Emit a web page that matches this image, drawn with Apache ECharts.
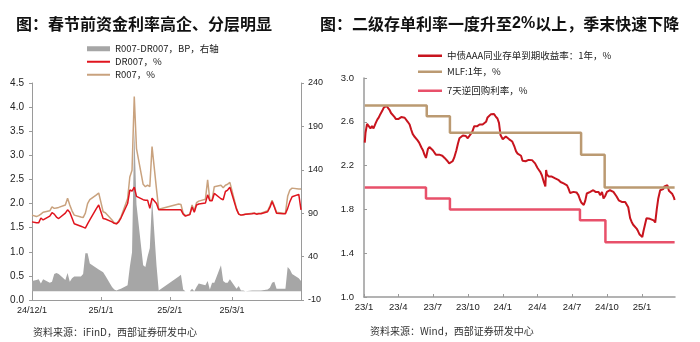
<!DOCTYPE html>
<html><head><meta charset="utf-8">
<script src="https://cdn.jsdelivr.net/npm/echarts@6/dist/echarts.min.js"></script>
<style>html,body{margin:0;padding:0;background:#fff}#c{width:700px;height:342px}</style>
</head><body><div id="c"></div>
<script>
// ---------- Left chart data ----------
const leftDates = ['2024-12-01','2024-12-03','2024-12-04','2024-12-05','2024-12-06','2024-12-09','2024-12-10','2024-12-11','2024-12-12','2024-12-13',
'2024-12-16','2024-12-17','2024-12-18','2024-12-19','2024-12-20','2024-12-23','2024-12-24','2024-12-25','2024-12-26','2024-12-27',
'2024-12-30','2024-12-31','2025-01-02','2025-01-03','2025-01-06','2025-01-07','2025-01-08','2025-01-09','2025-01-10','2025-01-13',
'2025-01-14','2025-01-15','2025-01-16','2025-01-17','2025-01-20','2025-01-21','2025-01-22','2025-01-23','2025-01-24','2025-01-26',
'2025-01-27','2025-02-05','2025-02-06','2025-02-07','2025-02-08','2025-02-10','2025-02-11','2025-02-12','2025-02-13','2025-02-14',
'2025-02-17','2025-02-18','2025-02-19','2025-02-20','2025-02-21','2025-02-24','2025-02-25','2025-02-26','2025-02-27','2025-02-28',
'2025-03-03','2025-03-04','2025-03-05','2025-03-06','2025-03-07','2025-03-10','2025-03-11','2025-03-12','2025-03-13','2025-03-14',
'2025-03-17','2025-03-18','2025-03-19','2025-03-20','2025-03-21','2025-03-24','2025-03-25','2025-03-26','2025-03-27','2025-03-28',
'2025-03-31','2025-04-01'];
const r007 = [1.76,1.73,1.75,1.78,1.82,1.85,1.93,1.90,1.91,1.92,
1.97,2.11,1.97,1.85,1.76,1.72,1.71,1.80,2.00,2.08,
2.18,2.22,1.83,1.81,1.66,1.60,1.58,1.64,1.72,2.10,
2.55,2.69,4.22,3.14,2.40,2.35,2.38,2.35,3.18,2.30,
1.88,1.99,1.98,1.80,1.75,1.78,1.97,1.85,2.02,2.05,
2.09,2.49,2.07,2.07,2.35,2.38,2.33,2.38,2.40,2.44,
1.90,1.78,1.76,1.77,1.78,1.80,1.80,1.79,1.80,1.80,
1.85,1.95,2.07,1.95,1.82,1.80,1.80,2.15,2.28,2.32,
2.30,2.30];
const dr007 = [1.62,1.60,1.60,1.70,1.66,1.74,1.81,1.78,1.72,1.69,
1.80,1.87,1.82,1.70,1.58,1.53,1.51,1.49,1.58,1.66,
1.90,1.97,1.69,1.68,1.62,1.59,1.58,1.62,1.70,2.00,
2.28,2.26,2.34,2.15,2.08,2.07,2.07,1.90,2.11,2.00,
1.87,1.87,1.87,1.78,1.74,1.77,1.93,1.82,1.97,1.99,
2.01,2.18,2.06,2.06,2.21,2.10,2.08,2.25,2.28,2.34,
1.88,1.78,1.76,1.77,1.78,1.79,1.80,1.78,1.79,1.79,
1.83,1.92,2.04,1.93,1.80,1.79,1.79,1.90,2.04,2.14,
2.19,1.87];
const spreadBP = [12,13,14,9,14,10,11,20,21,20,
13,21,11,15,17,17,20,44,44,32,
27,25,22,18,5,2,1,2,3,7,
28,45,188,100,30,28,40,50,107,30,
1,17,19,2,0,0,3,0,5,9,
7,12,2,10,10,30,12,10,10,14,
3,6,1,1,0,1,1,1,1,1,
2,4,10,11,3,3,3,28,25,20,
15,12];
const leftXTicks = ['2024-12-01','2025-01-01','2025-02-01','2025-03-01'];
const leftYTicks = [0,0.5,1,1.5,2,2.5,3,3.5,4,4.5];
const leftY2Ticks = [-10,40,90,140,190,240];

// ---------- Right chart data ----------
const cdDates = [
'2023-01-03','2023-01-05','2023-01-09','2023-01-13','2023-01-18','2023-01-22','2023-01-26',
'2023-02-01','2023-02-05','2023-02-09','2023-02-13','2023-02-18','2023-02-22','2023-02-26',
'2023-03-01','2023-03-05','2023-03-09','2023-03-13','2023-03-18','2023-03-22','2023-03-26',
'2023-04-01','2023-04-05','2023-04-09','2023-04-13','2023-04-18','2023-04-22','2023-04-26',
'2023-05-01','2023-05-05','2023-05-09','2023-05-13','2023-05-18','2023-05-22','2023-05-26',
'2023-06-01','2023-06-05','2023-06-09','2023-06-13','2023-06-18','2023-06-22','2023-06-26',
'2023-07-01','2023-07-05','2023-07-09','2023-07-13','2023-07-18','2023-07-22','2023-07-26',
'2023-08-01','2023-08-05','2023-08-09','2023-08-13','2023-08-18','2023-08-22','2023-08-26',
'2023-09-01','2023-09-05','2023-09-09','2023-09-13','2023-09-18','2023-09-22','2023-09-26',
'2023-10-01','2023-10-05','2023-10-09','2023-10-13','2023-10-18','2023-10-22','2023-10-26',
'2023-11-01','2023-11-05','2023-11-09','2023-11-13','2023-11-18','2023-11-22','2023-11-26',
'2023-12-01','2023-12-05','2023-12-09','2023-12-13','2023-12-18','2023-12-22','2023-12-26',
'2024-01-01','2024-01-05','2024-01-09','2024-01-13','2024-01-18','2024-01-22','2024-01-26',
'2024-02-01','2024-02-05','2024-02-09','2024-02-13','2024-02-18','2024-02-22','2024-02-26',
'2024-03-01','2024-03-05','2024-03-09','2024-03-13','2024-03-18','2024-03-22','2024-03-26',
'2024-04-01','2024-04-05','2024-04-09','2024-04-13','2024-04-18','2024-04-22','2024-04-24','2024-04-26',
'2024-05-01','2024-05-05','2024-05-09','2024-05-13','2024-05-18','2024-05-22','2024-05-26',
'2024-06-01','2024-06-05','2024-06-09','2024-06-13','2024-06-18','2024-06-22','2024-06-26',
'2024-07-01','2024-07-05','2024-07-09','2024-07-13','2024-07-18','2024-07-22','2024-07-26',
'2024-08-01','2024-08-05','2024-08-09','2024-08-13','2024-08-18','2024-08-22','2024-08-26',
'2024-09-01','2024-09-05','2024-09-09','2024-09-13','2024-09-18','2024-09-22','2024-09-26',
'2024-10-01','2024-10-05','2024-10-09','2024-10-13','2024-10-18','2024-10-22','2024-10-26',
'2024-11-01','2024-11-05','2024-11-09','2024-11-13','2024-11-18','2024-11-22','2024-11-26',
'2024-12-01','2024-12-05','2024-12-09','2024-12-13','2024-12-18','2024-12-22','2024-12-26',
'2025-01-02','2025-01-05','2025-01-09','2025-01-13','2025-01-18','2025-01-22','2025-01-26',
'2025-02-01','2025-02-05','2025-02-09','2025-02-13','2025-02-18','2025-02-22','2025-02-26',
'2025-03-01','2025-03-05','2025-03-09','2025-03-13','2025-03-18','2025-03-22','2025-03-26','2025-03-28'];
const cdValues = [
2.41,2.50,2.58,2.59,2.54,2.56,2.54,
2.59,2.62,2.64,2.67,2.70,2.73,2.745,
2.745,2.735,2.71,2.68,2.668,2.645,2.625,
2.625,2.637,2.643,2.637,2.637,2.625,2.60,
2.575,2.53,2.49,2.468,2.46,2.43,2.41,
2.365,2.34,2.30,2.27,2.35,2.37,2.365,
2.34,2.33,2.30,2.31,2.30,2.31,2.29,
2.27,2.26,2.24,2.22,2.22,2.24,2.27,
2.34,2.40,2.45,2.468,2.475,2.49,2.47,
2.45,2.47,2.49,2.51,2.56,2.575,2.56,
2.575,2.57,2.575,2.58,2.60,2.64,2.65,
2.67,2.674,2.672,2.65,2.63,2.59,2.48,
2.44,2.455,2.465,2.45,2.44,2.44,2.42,
2.37,2.33,2.31,2.31,2.29,2.245,2.237,
2.24,2.25,2.252,2.268,2.25,2.237,2.22,
2.18,2.16,2.14,2.11,2.05,2.01,2.16,2.12,
2.10,2.09,2.10,2.10,2.083,2.083,2.07,
2.05,2.04,2.037,2.022,2.02,1.99,1.95,
1.96,1.96,1.96,1.955,1.93,1.89,1.86,
1.84,1.88,1.945,1.945,1.96,1.975,1.975,
1.96,1.945,1.96,1.93,1.96,1.90,1.92,
1.96,1.95,1.975,1.96,1.96,1.95,1.92,
1.883,1.868,1.868,1.88,1.868,1.855,1.82,
1.72,1.685,1.66,1.645,1.625,1.60,1.57,
1.548,1.60,1.66,1.72,1.73,1.714,1.73,
1.70,1.68,1.80,1.90,1.975,1.99,1.985,
2.01,2.02,2.02,1.97,1.96,1.94,1.91,1.885];
const mlfDates = ['2023-01-03','2023-06-15','2023-08-15','2024-07-25','2024-09-25','2025-03-28'];
const mlfValues = [2.75,2.65,2.50,2.30,2.00,2.00];
const repoDates = ['2023-01-03','2023-06-13','2023-08-15','2024-07-22','2024-09-27','2025-03-28'];
const repoValues = [2.00,1.90,1.80,1.70,1.50,1.50];
const rightXTicks = ['2023-01-01','2023-04-01','2023-07-01','2023-10-01','2024-01-01','2024-04-01','2024-07-01','2024-10-01','2025-01-01'];
const rightYTicks = [1.0,1.4,1.8,2.2,2.6,3.0];

// ---------- helpers ----------
const ts = s => { const p = s.split('-').map(Number); return new Date(p[0], p[1]-1, p[2]).getTime(); };
const pairs = (d, v) => d.map((x, i) => [ts(x), v[i]]);
const yy = d => String(d.getFullYear()).slice(2);

const AX = '#9a9a9a', TXT = '#222';
const LF = 'Liberation Sans, Arial, sans-serif';
const CJK = '"Noto Sans CJK SC", sans-serif';

const chart = echarts.init(document.getElementById('c'));
chart.setOption({
  animation: false,
  backgroundColor: '#fff',
  grid: [
    {left: 32, right: 399, top: 83, bottom: 42},
    {left: 364, right: 25, top: 78, bottom: 45}
  ],
  xAxis: [
    {type: 'value', gridIndex: 0, min: ts('2024-12-01'), max: ts('2025-04-01'), scale: true,
     axisLine: {lineStyle: {color: AX}}, splitLine: {show: false},
     axisTick: {show: true, inside: true, length: 3, customValues: leftXTicks.map(ts), lineStyle: {color: AX}},
     axisLabel: {customValues: leftXTicks.map(ts), fontSize: 9, color: TXT, fontFamily: LF, margin: 6,
       formatter: v => { const d = new Date(v); return yy(d) + '/' + (d.getMonth()+1) + '/' + d.getDate(); }}},
    {type: 'value', gridIndex: 1, min: ts('2023-01-01'), max: ts('2025-03-29'), scale: true,
     axisLine: {lineStyle: {color: AX, width: 1.5}}, splitLine: {show: false},
     axisTick: {show: true, inside: true, length: 3, customValues: rightXTicks.map(ts), lineStyle: {color: AX}},
     axisLabel: {customValues: rightXTicks.map(ts), fontSize: 9.5, color: TXT, fontFamily: LF, margin: 5,
       formatter: v => { const d = new Date(v); return yy(d) + '/' + (d.getMonth()+1); }}}
  ],
  yAxis: [
    {type: 'value', gridIndex: 0, position: 'left', min: 0, max: 4.5,
     axisLine: {show: true, lineStyle: {color: AX}}, splitLine: {show: false},
     axisTick: {show: true, length: 3, customValues: leftYTicks, lineStyle: {color: AX}},
     axisLabel: {customValues: leftYTicks, fontSize: 10, color: TXT, fontFamily: LF, margin: 8, formatter: v => v.toFixed(1)}},
    {type: 'value', gridIndex: 0, position: 'right', min: -10, max: 240,
     axisLine: {show: true, lineStyle: {color: AX}}, splitLine: {show: false},
     axisTick: {show: true, length: 3, customValues: leftY2Ticks, lineStyle: {color: AX}},
     axisLabel: {customValues: leftY2Ticks, fontSize: 9, color: TXT, fontFamily: LF, margin: 7}},
    {type: 'value', gridIndex: 1, position: 'left', min: 1, max: 3,
     axisLine: {show: true, lineStyle: {color: AX, width: 1.5}}, splitLine: {show: false},
     axisTick: {show: true, inside: true, length: 3, customValues: rightYTicks, lineStyle: {color: AX}},
     axisLabel: {customValues: rightYTicks, fontSize: 9.5, color: TXT, fontFamily: LF, margin: 10, formatter: v => v.toFixed(1)}}
  ],
  legend: [
    {left: 87, top: 44, padding: 0, icon: 'rect', itemWidth: 23, itemHeight: 5, data: ['R007-DR007，BP，右轴'],
     textStyle: {fontSize: 9.5, color: TXT, fontFamily: CJK}},
    {left: 87, top: 57, padding: 0, icon: 'rect', itemWidth: 23, itemHeight: 2, data: ['DR007，%'],
     textStyle: {fontSize: 9.5, color: TXT, fontFamily: CJK}},
    {left: 87, top: 70, padding: 0, icon: 'rect', itemWidth: 23, itemHeight: 2, data: ['R007，%'],
     textStyle: {fontSize: 9.5, color: TXT, fontFamily: CJK}},
    {left: 418, top: 51, padding: 0, icon: 'rect', itemWidth: 24, itemHeight: 2.5, data: ['中债AAA同业存单到期收益率：1年，%'],
     textStyle: {fontSize: 9.5, color: TXT, fontFamily: CJK}},
    {left: 418, top: 67, padding: 0, icon: 'rect', itemWidth: 24, itemHeight: 2.5, data: ['MLF:1年，%'],
     textStyle: {fontSize: 9.5, color: TXT, fontFamily: CJK}},
    {left: 418, top: 86, padding: 0, icon: 'rect', itemWidth: 24, itemHeight: 2.5, data: ['7天逆回购利率，%'],
     textStyle: {fontSize: 9.5, color: TXT, fontFamily: CJK}}
  ],
  series: [
    {name: 'R007-DR007，BP，右轴', type: 'line', xAxisIndex: 0, yAxisIndex: 1, symbol: 'none',
     data: pairs(leftDates, spreadBP), lineStyle: {width: 0}, itemStyle: {color: '#a6a6a6'},
     areaStyle: {color: '#a6a6a6', opacity: 1}},
    {name: 'R007，%', type: 'line', xAxisIndex: 0, yAxisIndex: 0, symbol: 'none',
     data: pairs(leftDates, r007), lineStyle: {width: 1.5, color: '#c9a27e'}, itemStyle: {color: '#c9a27e'}},
    {name: 'DR007，%', type: 'line', xAxisIndex: 0, yAxisIndex: 0, symbol: 'none',
     data: pairs(leftDates, dr007), lineStyle: {width: 1.5, color: '#e0141e'}, itemStyle: {color: '#e0141e'}},
    {name: '中债AAA同业存单到期收益率：1年，%', type: 'line', xAxisIndex: 1, yAxisIndex: 2, symbol: 'none',
     data: pairs(cdDates, cdValues), lineStyle: {width: 2, color: '#c8141e'}, itemStyle: {color: '#c8141e'}},
    {name: 'MLF:1年，%', type: 'line', xAxisIndex: 1, yAxisIndex: 2, symbol: 'none', step: 'end',
     data: pairs(mlfDates, mlfValues), lineStyle: {width: 2.5, color: '#bb9a72'}, itemStyle: {color: '#bb9a72'}},
    {name: '7天逆回购利率，%', type: 'line', xAxisIndex: 1, yAxisIndex: 2, symbol: 'none', step: 'end',
     data: pairs(repoDates, repoValues), lineStyle: {width: 2.5, color: '#e8506a'}, itemStyle: {color: '#e8506a'}}
  ],
  graphic: [
    {type: 'text', left: 16, top: 16, style: {text: '图：春节前资金利率高企、分层明显', font: 'bold 16px "Noto Sans CJK SC"', fill: '#111'}},
    {type: 'text', left: 320, top: 16, style: {
      text: '{a|图：二级存单利率一度升至}{b|2%}{a|以上，季末快速下降}', fill: '#111',
      rich: {a: {font: 'bold 16px "Noto Sans CJK SC"', fill: '#111'}, b: {font: 'bold 16px "Liberation Sans"', fill: '#111'}}}},
    {type: 'text', left: 33, top: 327, style: {text: '资料来源：iFinD，西部证券研发中心', font: '10px "Noto Sans CJK SC"', fill: '#333'}},
    {type: 'text', left: 370, top: 326, style: {text: '资料来源：Wind，西部证券研发中心', font: '10px "Noto Sans CJK SC"', fill: '#333'}}
  ]
});
</script></body></html>
